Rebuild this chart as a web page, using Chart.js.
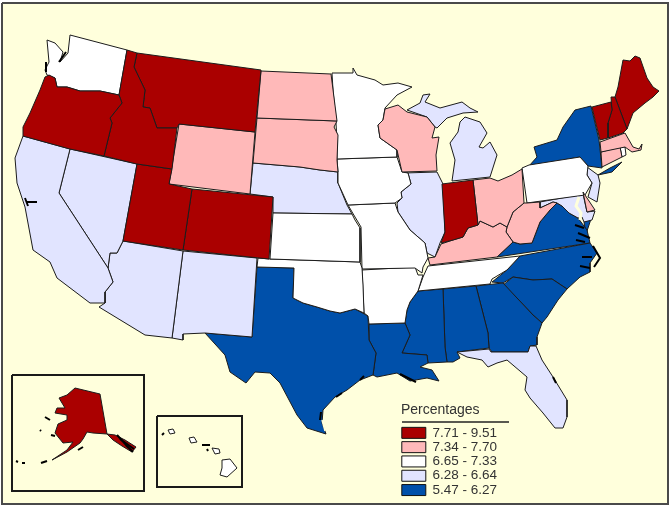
<!DOCTYPE html>
<html>
<head>
<meta charset="utf-8">
<title>Percentages by state</title>
<script src="https://cdn.jsdelivr.net/npm/chart.js@4/dist/chart.umd.js"></script>
<style>
  html, body { margin: 0; padding: 0; background: #fff; }
  #map { display: block; }
</style>
</head>
<body>
<canvas id="map" width="672" height="508"></canvas>
<script>
// Legend classes, highest first
const legendTitle = 'Percentages';
const legendLabels = ['7.71 - 9.51', '7.34 - 7.70', '6.65 - 7.33', '6.28 - 6.64', '5.47 - 6.27'];
const binColors = ['#AA0000', '#FFB9B9', '#FFFFFF', '#E1E4FF', '#0050AA'];

// State outlines in its own x/y units
const WA = [[70,35],[127,50],[119,95],[100,91],[80,91],[67,87],[57,87],[55,78],[47,75],[45,70],[49,62],[47,40],[55,43],[63,52],[60,62],[68,53]];
const OR = [[49,75],[55,78],[57,87],[67,87],[80,91],[100,91],[119,95],[122,103],[110,118],[112,123],[104,156],[70,149],[23,136],[23,127],[30,113],[40,90],[45,77]];
const ID = [[127,50],[137,53],[134,67],[145,90],[143,107],[150,108],[157,128],[177,128],[172,169],[137,164],[104,156],[112,123],[110,118],[122,103],[119,95]];
const MT = [[137,53],[261,70],[255,132],[179,124],[177,128],[157,128],[150,108],[143,107],[145,90],[134,67]];
const WY = [[179,124],[255,132],[250,194],[169,184]];
const ND = [[261,71],[331,74],[337,121],[257,118]];
const SD = [[257,118],[337,121],[334,127],[338,135],[337,160],[338,172],[320,170],[300,167],[253,163]];
const NE = [[253,163],[300,167],[320,170],[338,172],[338,183],[347,205],[352,214],[273,213],[273,197],[250,194]];
const CO = [[192,189],[273,197],[269,259],[183,250]];
const UT = [[137,164],[172,169],[169,184],[192,189],[183,250],[123,241]];
const NV = [[70,149],[137,164],[123,241],[117,253],[110,253],[108,268],[59,193]];
const CA = [[23,136],[70,149],[59,193],[108,268],[113,282],[105,292],[105,303],[90,303],[57,278],[50,262],[33,250],[25,207],[17,183],[15,158]];
const AZ = [[123,241],[183,251],[172,338],[145,335],[99,307],[105,303],[105,292],[113,282],[108,268],[110,253],[117,253]];
const NM = [[183,251],[257,258],[252,337],[205,333],[183,334],[183,340],[172,338]];
const TX = [[257,267],[294,268],[293,298],[303,303],[317,307],[330,311],[340,313],[355,309],[368,316],[369,340],[376,353],[373,375],[360,380],[347,390],[335,397],[323,410],[322,423],[326,434],[307,428],[297,415],[280,383],[270,373],[255,372],[246,383],[230,372],[225,355],[205,333],[252,337]];
const OK = [[258,258],[270,259],[360,262],[362,268],[363,285],[364,313],[355,309],[340,313],[330,311],[317,307],[303,303],[293,298],[294,268],[257,267]];
const KS = [[273,213],[352,214],[355,220],[360,228],[360,262],[270,259]];
const MN = [[332,73],[353,73],[353,68],[357,75],[375,80],[383,85],[398,83],[412,87],[397,95],[385,108],[383,120],[378,125],[380,138],[397,150],[397,157],[337,159],[337,140],[336,123],[333,90]];
const IA = [[337,159],[397,157],[402,172],[408,173],[411,184],[401,192],[402,198],[395,203],[348,205],[338,183],[338,172]];
const MO = [[348,205],[395,203],[398,212],[410,230],[425,243],[427,253],[428,258],[423,267],[422,273],[415,268],[362,269],[361,227],[355,217]];
const AR = [[362,270],[415,267],[418,275],[423,275],[418,291],[410,302],[407,310],[405,323],[369,324],[368,316],[364,313]];
const LA = [[369,324],[405,323],[410,335],[402,353],[427,355],[428,363],[420,367],[432,370],[439,381],[427,378],[410,381],[397,373],[377,377],[373,375],[376,353],[369,340]];
const WI = [[385,109],[398,105],[407,112],[427,117],[435,127],[432,138],[439,137],[436,155],[437,171],[402,172],[397,150],[380,138],[378,125],[383,120]];
const MI_UPPER = [[407,110],[420,103],[423,95],[430,94],[425,102],[440,108],[462,102],[470,108],[478,112],[463,113],[447,118],[437,128],[435,127],[427,117]];
const MI_LOWER = [[465,117],[480,122],[487,133],[479,147],[483,148],[490,142],[497,155],[490,177],[452,181],[455,160],[450,143],[458,132],[460,122]];
const IL = [[404,173],[437,172],[443,184],[445,232],[440,243],[435,257],[427,253],[425,243],[410,230],[398,212],[397,203],[402,198],[401,192],[411,184],[408,173]];
const IN = [[442,184],[473,180],[478,225],[468,228],[463,237],[453,240],[441,243],[445,232]];
const OH = [[473,180],[490,178],[498,181],[512,175],[522,169],[524,203],[513,212],[507,227],[500,223],[493,227],[480,221],[478,225]];
const KY = [[441,244],[453,240],[463,237],[468,228],[478,225],[480,221],[493,227],[500,223],[507,227],[506,232],[513,242],[497,257],[430,265],[428,258],[435,257]];
const TN = [[428,266],[520,256],[507,270],[492,279],[490,284],[418,291],[423,277]];
const MS = [[418,291],[443,289],[445,347],[447,362],[428,363],[427,355],[402,353],[410,335],[405,323],[407,310],[410,302]];
const AL = [[443,289],[476,286],[488,333],[489,348],[457,352],[460,358],[453,362],[447,362],[445,347]];
const GA = [[476,286],[503,283],[517,298],[533,315],[542,323],[537,337],[537,345],[530,346],[528,352],[492,352],[489,348],[488,333]];
const FL = [[457,352],[489,349],[491,352],[528,352],[530,346],[536,346],[542,360],[553,377],[567,400],[567,417],[563,428],[555,428],[543,413],[530,398],[525,390],[527,377],[507,360],[497,363],[488,367],[482,360],[467,357]];
const SC = [[503,285],[513,277],[533,280],[552,279],[567,289],[558,300],[547,317],[542,323],[533,315],[517,298]];
const NC = [[492,282],[507,270],[520,256],[590,243],[597,253],[590,263],[590,272],[580,277],[567,289],[552,279],[533,280],[513,277],[503,283]];
const VA = [[497,257],[590,243],[587,230],[578,218],[569,213],[562,206],[557,203],[550,210],[540,222],[532,243],[520,244],[513,242]];
const VA_SHORE = [[593,212],[590,222],[586,234],[584,222]];
const WV = [[506,232],[507,227],[513,212],[524,203],[527,203],[540,202],[540,208],[553,202],[557,203],[550,210],[540,222],[532,243],[520,244],[513,242]];
const PA = [[522,168],[529,165],[580,157],[588,166],[587,175],[592,183],[585,195],[527,203]];
const NY = [[529,166],[537,157],[534,147],[557,140],[563,127],[575,110],[591,106],[599,140],[602,168],[588,166],[580,157]];
const LONG_ISLAND = [[598,175],[610,168],[622,162],[612,172]];
const NJ = [[587,167],[598,175],[600,183],[597,202],[588,197],[592,183],[587,175]];
const DE = [[583,192],[595,210],[587,212]];
const MD = [[540,202],[583,194],[587,212],[595,211],[592,220],[584,222],[582,217],[578,218],[569,213],[562,206],[557,203],[553,202],[540,208]];
const DC = [[569,206],[573,204],[577,208],[573,212]];
const CT = [[601,152],[620,147],[622,157],[602,167]];
const RI = [[620,147],[625,147],[626,155],[622,157]];
const MA = [[600,142],[625,133],[633,147],[639,149],[642,144],[641,150],[632,152],[625,147],[601,152]];
const VT = [[592,107],[611,102],[612,110],[608,123],[608,138],[600,140],[595,120]];
const NH = [[611,97],[615,97],[627,129],[623,133],[608,138],[608,123],[612,110]];
const ME = [[615,97],[618,87],[623,60],[630,61],[635,56],[640,58],[647,78],[653,87],[659,91],[653,97],[645,103],[633,113],[627,129]];
const AK = [[75,388],[100,394],[107,434],[93,433],[87,432],[83,439],[80,443],[67,452],[52,460],[67,450],[73,442],[63,443],[55,433],[58,424],[67,420],[67,415],[55,413],[57,408],[65,408],[59,398],[67,395]];
const AK_PANHANDLE = [[107,434],[115,435],[125,440],[136,447],[132,452],[122,446],[113,440]];
const HI_KAUAI = [[168,430],[173,429],[175,433],[170,434]];
const HI_OAHU = [[189,438],[194,437],[197,442],[191,443]];
const HI_MAUI = [[212,448],[219,449],[220,453],[215,454]];
const HI_BIG = [[222,460],[230,459],[237,468],[227,477],[220,475],[222,468]];

// Which state falls in which legend class, same order as legendLabels
const stateBins = [
  [OR, ID, MT, UT, CO, IN, VT, NH, ME, AK, AK_PANHANDLE],
  [WY, ND, SD, WI, OH, KY, WV, MA, CT, DE],
  [WA, MN, IA, KS, OK, MO, AR, TN, PA, RI, HI_KAUAI, HI_OAHU, HI_MAUI, HI_BIG],
  [CA, NV, AZ, NM, NE, IL, MI_UPPER, MI_LOWER, FL, NJ, MD],
  [TX, LA, MS, AL, GA, SC, NC, VA, VA_SHORE, NY, LONG_ISLAND, DC]
];

// Small black islands and rough bits of coast
const blackBits = [
  [[16,461],[18,462]], [[22,463],[25,463]], [[41,463],[47,461]],
  [[45,417],[50,420]], [[51,435],[55,436]], [[40,430],[41,431]], [[78,450],[83,447]],
  [[162,435],[164,433]], [[202,445],[210,445]], [[207,449],[208,451]],
  [[120,439],[134,449]], [[117,435],[128,447]], [[126,445],[133,452]],
  [[59,62],[66,52]], [[46,62],[46,72]], [[25,198],[28,206]], [[27,202],[37,202]],
  [[575,225],[584,228]], [[578,233],[590,238]], [[576,240],[585,242]], [[582,257],[592,257]], [[580,266],[590,268]],
  [[593,246],[600,258],[594,267]],
  [[360,380],[364,376]], [[336,397],[342,393]], [[321,412],[320,420]], [[400,374],[416,382]], [[556,383],[553,377]]
];
const chesapeake = [[579,197],[576,206],[581,213],[580,220]];
const padreIsland = [[322,420],[325,431]];

const frameBox = [[2,3],[668,3],[668,504],[2,504]];
const alaskaBox = [[12,375],[144,375],[144,491],[12,491]];
const hawaiiBox = [[157,416],[242,416],[242,487],[157,487]];
const legendRule = [[402,422],[509,422]];

function toPoints(outline) {
  const pts = outline.map(p => ({ x: p[0], y: p[1] }));
  pts.push({ x: outline[0][0], y: outline[0][1] });
  return pts;
}

function polygon(outline, color, width, border) {
  return {
    data: toPoints(outline),
    showLine: true,
    fill: color ? 'shape' : false,
    backgroundColor: color || 'transparent',
    borderColor: border,
    borderWidth: width,
    pointRadius: 0,
    tension: 0
  };
}

function stroke(points, color, width) {
  return {
    data: points.map(p => ({ x: p[0], y: p[1] })),
    showLine: true,
    fill: false,
    borderColor: color,
    borderWidth: width,
    pointRadius: 0,
    tension: 0
  };
}

// Chart.js paints the first dataset last, so top layers go first
const datasets = [];
datasets.push(stroke(legendRule, '#222222', 1.5));
blackBits.forEach(b => datasets.push(stroke(b, '#000000', 2)));
datasets.push(stroke(chesapeake, '#FFFFDC', 3));
datasets.push(stroke(padreIsland, '#FFFFDC', 1.5));
stateBins.forEach((states, i) => {
  states.forEach(s => datasets.push(polygon(s, binColors[i], 1, '#1c1c1c')));
});
datasets.push(polygon(alaskaBox, null, 2, '#1a1a1a'));
datasets.push(polygon(hawaiiBox, null, 2, '#1a1a1a'));
datasets.push(polygon(frameBox, '#FFFFDC', 2, '#4a4a4a'));

// Legend sits on the map, so place it by hand and paint it after the datasets
const legendPlacer = {
  id: 'legendPlacer',
  afterLayout(chart) {
    const l = chart.legend;
    l.left = 401;
    l.right = 525;
    l.top = 400;
    l.bottom = 500;
  },
  afterDatasetsDraw(chart) {
    chart.legend.draw();
  }
};

new Chart(document.getElementById('map'), {
  type: 'scatter',
  data: { datasets },
  plugins: [legendPlacer],
  options: {
    responsive: false,
    animation: false,
    layout: { padding: 0 },
    scales: {
      x: { display: false, min: 0, max: 672 },
      y: { display: false, min: 0, max: 508, reverse: true }
    },
    plugins: {
      tooltip: { enabled: false },
      legend: {
        position: 'chartArea',
        align: 'start',
        title: {
          display: true,
          position: 'start',
          text: legendTitle,
          color: '#333333',
          font: { family: 'Liberation Sans', size: 14 },
          padding: { top: 3, bottom: 5.5 }
        },
        labels: {
          boxWidth: 24,
          boxHeight: 11,
          padding: 0.8,
          color: '#333333',
          font: { family: 'Liberation Sans', size: 13.5 },
          generateLabels: () => legendLabels.map((text, i) => ({
            text,
            fillStyle: binColors[i],
            strokeStyle: '#111111',
            lineWidth: 1,
            hidden: false,
            datasetIndex: i
          }))
        }
      }
    }
  }
});
</script>
</body>
</html>
